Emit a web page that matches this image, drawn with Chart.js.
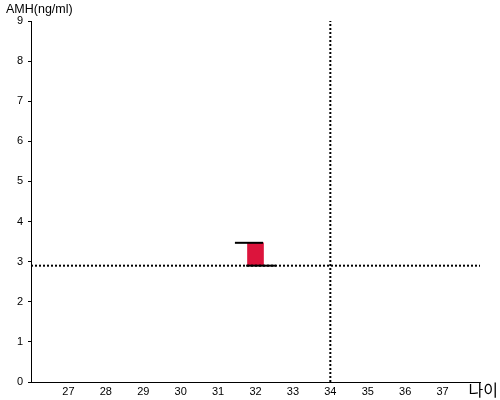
<!DOCTYPE html>
<html>
<head>
<meta charset="utf-8">
<script src="https://cdn.jsdelivr.net/npm/chart.js@4"></script>
<style>
  html, body { margin: 0; padding: 0; background: #fff; }
  #wrap { width: 500px; height: 400px; }
</style>
</head>
<body>
<div id="wrap"><canvas id="amhChart"></canvas></div>
<script>
// axis ranges / labels
const xMin = 26, xMax = 38;
const yMin = 0, yMax = 9;
const xTickLabels = [27, 28, 29, 30, 31, 32, 33, 34, 35, 36, 37];

// measured AMH range at age 32
const ages = [32];
const amhLow = [2.9];
const amhHigh = [3.47];
// marker caps: [from age, to age]
const upperCap = [31.45, 32.2];
const lowerCap = [31.75, 32.55];

// reference lines
const refAmh = 2.9;
const refAge = 34;

const titleText = 'AMH(ng/ml)';
const ageText = '나이';

const axisLabels = {
    id: 'axisLabels',
    afterDraw(chart) {
        const c = chart.ctx;
        c.save();
        c.fillStyle = '#000';
        c.font = '12.5px "Liberation Sans", Arial, sans-serif';
        c.textBaseline = 'middle';
        c.textAlign = 'left';
        c.fillText(titleText, 6, 10);
        c.font = '16px "Noto Sans CJK KR", sans-serif';
        c.textAlign = 'right';
        c.fillText(ageText, 498, 390);
        c.restore();
    }
};

document.addEventListener("DOMContentLoaded", function() {
    const ctx = document.getElementById('amhChart').getContext('2d');

    new Chart(ctx, {
        type: 'scatter',
        data: {
            datasets: [
                {
                    type: 'bar',
                    data: ages.map((a, i) => ({ x: a, y: [amhLow[i], amhHigh[i]] })),
                    backgroundColor: '#DC143C',
                    borderWidth: 0,
                    barThickness: 16,
                    order: 3
                },
                {
                    type: 'line',
                    data: upperCap.map(a => ({ x: a, y: amhHigh[0] })),
                    borderColor: '#000',
                    borderWidth: 2,
                    pointRadius: 0,
                    order: 1
                },
                {
                    type: 'line',
                    data: lowerCap.map(a => ({ x: a, y: amhLow[0] })),
                    borderColor: '#000',
                    borderWidth: 2,
                    pointRadius: 0,
                    order: 1
                },
                {
                    type: 'line',
                    data: [{ x: xMin, y: refAmh }, { x: xMax, y: refAmh }],
                    borderColor: '#000',
                    borderWidth: 2,
                    borderDash: [2, 2],
                    pointRadius: 0,
                    order: 2
                },
                {
                    type: 'line',
                    data: [{ x: refAge, y: yMin }, { x: refAge, y: yMax }],
                    borderColor: '#000',
                    borderWidth: 2,
                    borderDash: [2, 2],
                    pointRadius: 0,
                    order: 2
                }
            ]
        },
        options: {
            responsive: true,
            maintainAspectRatio: false,
            animation: false,
            layout: { padding: { top: 21, right: 20, left: 0, bottom: 0 } },
            plugins: {
                legend: { display: false },
                tooltip: { enabled: false }
            },
            scales: {
                x: {
                    type: 'linear',
                    min: xMin,
                    max: xMax,
                    offset: false,
                    afterBuildTicks: (scale) => {
                        scale.ticks = xTickLabels.map(v => ({ value: v }));
                    },
                    afterFit: (scale) => { scale.height = 18; },
                    grid: { display: true, offset: false, drawOnChartArea: false, drawTicks: false },
                    border: { color: '#000', width: 1 },
                    ticks: {
                        color: '#000',
                        padding: 3,
                        maxRotation: 0,
                        autoSkip: false,
                        font: { family: '"Liberation Sans", Arial', size: 11 }
                    }
                },
                y: {
                    min: yMin,
                    max: yMax,
                    afterFit: (scale) => { scale.width = 31; },
                    grid: { display: true, drawOnChartArea: false, tickLength: 3, color: '#000' },
                    border: { color: '#000', width: 1 },
                    ticks: {
                        stepSize: 1,
                        color: '#000',
                        padding: 5,
                        font: { family: '"Liberation Sans", Arial', size: 11 }
                    }
                }
            }
        },
        plugins: [axisLabels]
    });
});
</script>
</body>
</html>
